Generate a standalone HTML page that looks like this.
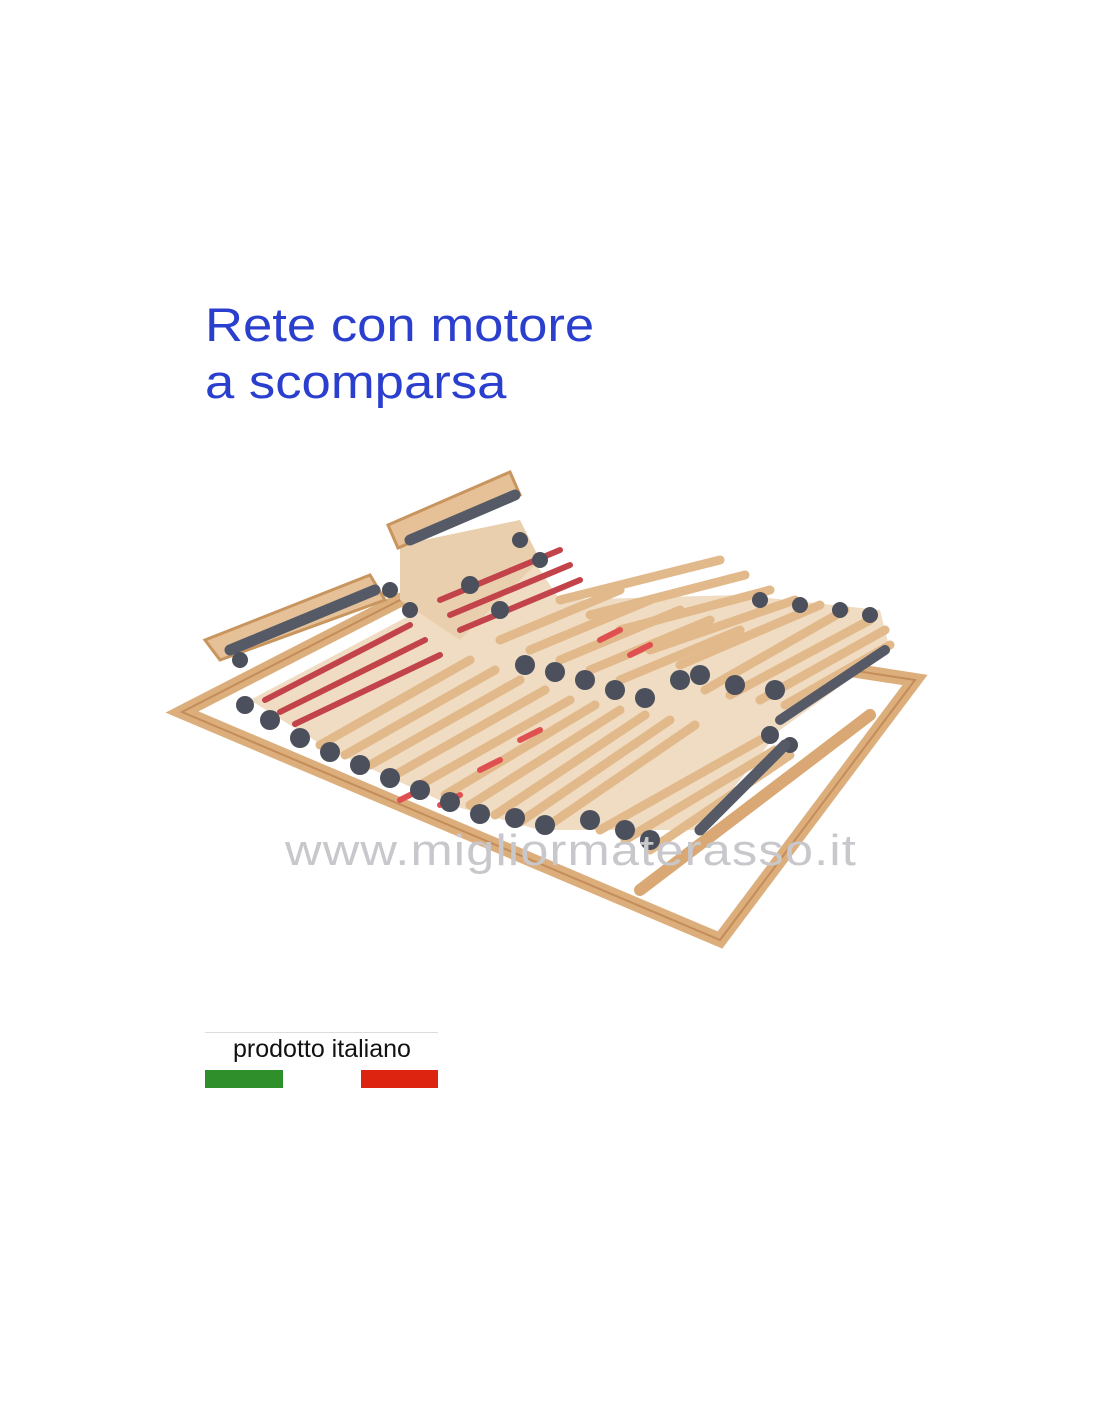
<!DOCTYPE html>
<html><head><meta charset="utf-8"><style>
html,body{margin:0;padding:0;background:#fff;}
body{width:1100px;height:1422px;position:relative;overflow:hidden;font-family:"Liberation Sans",sans-serif;}
.t{position:absolute;left:205px;color:#2b3fcf;font-size:47px;line-height:54px;transform:scaleX(1.12);transform-origin:0 0;white-space:nowrap;}
.wm{position:absolute;left:285px;top:826px;font-size:44px;color:#c8c8cc;letter-spacing:1px;transform:scaleX(1.15);transform-origin:0 0;white-space:nowrap;}
.flag{position:absolute;left:205px;top:1032px;width:233px;height:55px;border-top:1px solid #ddd;}
.flag span{position:absolute;left:28px;top:2px;font-size:25px;color:#111;}
</style></head><body>
<div class="t" style="top:298px">Rete con motore</div>
<div class="t" style="top:355px">a scomparsa</div>
<svg width="1100" height="1422" style="position:absolute;left:0;top:0">
<g stroke-linecap="round">
<!-- base frame -->
<polygon points="182,712 400,600 915,680 720,940" fill="none" stroke="#dcae7c" stroke-width="14"/>
<polygon points="182,712 400,600 915,680 720,940" fill="none" stroke="#c48c58" stroke-width="2"/>
<line x1="640" y1="890" x2="870" y2="715" stroke="#d9a874" stroke-width="12"/>
<!-- fill masses -->
<polygon points="250,700 420,610 520,540 560,600 740,595 880,610 890,650 780,730 700,830 600,830 540,830 450,805 330,750" fill="#efdcc2"/>
<polygon points="400,600 400,545 520,520 540,560 460,640" fill="#e9cfae"/>
<!-- right bed slats -->
<g stroke="#e2b98a" stroke-width="9">
<line x1="560" y1="600" x2="720" y2="560"/><line x1="590" y1="615" x2="745" y2="575"/>
<line x1="620" y1="630" x2="770" y2="590"/><line x1="650" y1="650" x2="795" y2="600"/>
<line x1="680" y1="665" x2="820" y2="605"/><line x1="705" y1="690" x2="845" y2="610"/>
<line x1="730" y1="695" x2="870" y2="620"/><line x1="760" y1="700" x2="885" y2="630"/>
<line x1="785" y1="705" x2="890" y2="645"/>
</g>
<line x1="780" y1="720" x2="885" y2="650" stroke="#555a66" stroke-width="10"/>
<!-- left head frames -->
<polygon points="205,640 370,575 385,600 220,660" fill="#e6c197" stroke="#c9955f" stroke-width="3"/>
<line x1="230" y1="650" x2="375" y2="590" stroke="#555a66" stroke-width="11"/>
<polygon points="388,525 510,472 520,495 398,548" fill="#e6c197" stroke="#c9955f" stroke-width="3"/>
<line x1="410" y1="540" x2="515" y2="495" stroke="#555a66" stroke-width="11"/>
<!-- red strips -->
<g stroke="#c2444a" stroke-width="6">
<line x1="265" y1="700" x2="410" y2="625"/><line x1="280" y1="712" x2="425" y2="640"/><line x1="295" y1="724" x2="440" y2="655"/>
<line x1="440" y1="600" x2="560" y2="550"/><line x1="450" y1="615" x2="570" y2="565"/><line x1="460" y1="630" x2="580" y2="580"/>
</g>
<!-- main slats -->
<g stroke="#e2b98a" stroke-width="9">
<line x1="320" y1="745" x2="470" y2="660"/><line x1="345" y1="755" x2="495" y2="670"/>
<line x1="370" y1="765" x2="520" y2="680"/><line x1="395" y1="775" x2="545" y2="690"/>
<line x1="420" y1="785" x2="570" y2="700"/><line x1="445" y1="795" x2="595" y2="705"/>
<line x1="470" y1="805" x2="620" y2="710"/><line x1="495" y1="815" x2="645" y2="715"/>
<line x1="520" y1="822" x2="670" y2="720"/><line x1="545" y1="828" x2="695" y2="725"/>
<line x1="600" y1="830" x2="760" y2="740"/><line x1="625" y1="840" x2="775" y2="750"/>
<line x1="650" y1="850" x2="790" y2="755"/><line x1="500" y1="640" x2="620" y2="590"/>
<line x1="530" y1="650" x2="650" y2="600"/><line x1="560" y1="660" x2="680" y2="610"/>
<line x1="590" y1="670" x2="710" y2="620"/><line x1="620" y1="680" x2="740" y2="630"/>
</g>
<g stroke="#e05050" stroke-width="6">
<line x1="400" y1="800" x2="420" y2="790"/><line x1="440" y1="805" x2="460" y2="795"/><line x1="480" y1="770" x2="500" y2="760"/>
<line x1="520" y1="740" x2="540" y2="730"/><line x1="600" y1="640" x2="620" y2="630"/><line x1="630" y1="655" x2="650" y2="645"/>
</g>
<!-- clips -->
<g fill="#4c505c">
<circle cx="270" cy="720" r="10"/><circle cx="300" cy="738" r="10"/><circle cx="330" cy="752" r="10"/><circle cx="360" cy="765" r="10"/>
<circle cx="390" cy="778" r="10"/><circle cx="420" cy="790" r="10"/><circle cx="450" cy="802" r="10"/><circle cx="480" cy="814" r="10"/>
<circle cx="515" cy="818" r="10"/><circle cx="545" cy="825" r="10"/><circle cx="590" cy="820" r="10"/><circle cx="625" cy="830" r="10"/><circle cx="650" cy="840" r="10"/>
<circle cx="525" cy="665" r="10"/><circle cx="555" cy="672" r="10"/><circle cx="585" cy="680" r="10"/><circle cx="615" cy="690" r="10"/>
<circle cx="645" cy="698" r="10"/><circle cx="680" cy="680" r="10"/><circle cx="700" cy="675" r="10"/>
<circle cx="735" cy="685" r="10"/><circle cx="775" cy="690" r="10"/><circle cx="760" cy="600" r="8"/><circle cx="800" cy="605" r="8"/><circle cx="840" cy="610" r="8"/><circle cx="870" cy="615" r="8"/>
<circle cx="470" cy="585" r="9"/><circle cx="500" cy="610" r="9"/><circle cx="520" cy="540" r="8"/><circle cx="540" cy="560" r="8"/>
<circle cx="390" cy="590" r="8"/><circle cx="410" cy="610" r="8"/><circle cx="240" cy="660" r="8"/><circle cx="245" cy="705" r="9"/>
<circle cx="770" cy="735" r="9"/><circle cx="790" cy="745" r="8"/>
</g>
<line x1="700" y1="830" x2="785" y2="745" stroke="#555a66" stroke-width="11"/>
</g>
</svg>
<div class="wm">www.migliormaterasso.it</div>
<div class="flag"><span>prodotto italiano</span>
<div style="position:absolute;left:0;top:37px;width:78px;height:18px;background:#2f8f2a"></div>
<div style="position:absolute;left:156px;top:37px;width:77px;height:18px;background:#dd2410"></div>
</div>
</body></html>
